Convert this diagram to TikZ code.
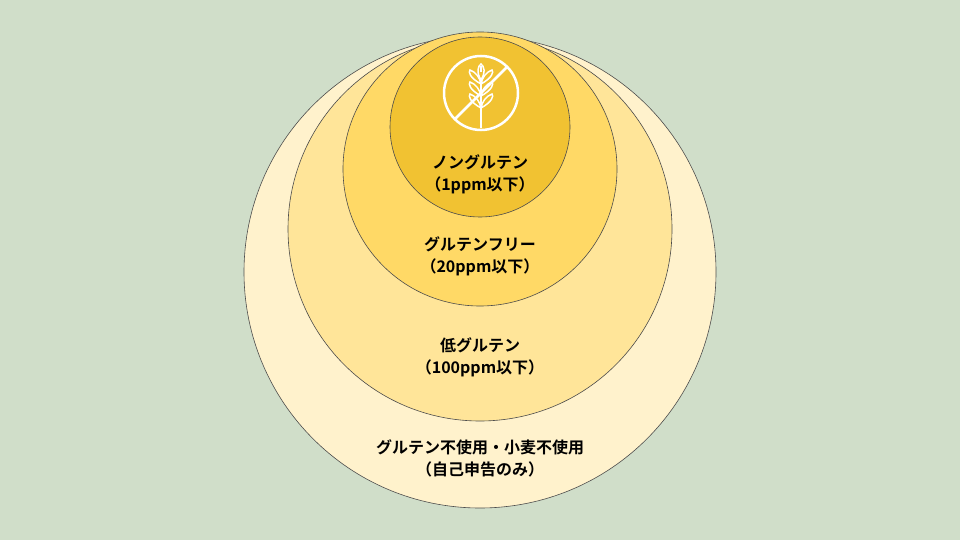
\documentclass[tikz,border=0pt]{standalone}
\usepackage{fontspec}
\setmainfont{Noto Sans CJK JP Bold}
\definecolor{sagebg}{RGB}{208,222,201}
\definecolor{levelA}{RGB}{255,242,204}
\definecolor{levelB}{RGB}{255,229,153}
\definecolor{levelC}{RGB}{255,217,102}
\definecolor{levelD}{RGB}{241,194,50}
\tikzset{ring/.style={draw=black!70, line width=0.6pt},
  lbl/.style={font=\fontsize{16}{22}\selectfont, align=center}}
\begin{document}
\begin{tikzpicture}[x=1pt,y=-1pt]
  % background
  \fill[sagebg] (0,0) rectangle (960,540);
  \useasboundingbox (0,0) rectangle (960,540);
  % nested circles
  \node[ring, circle, fill=levelA, minimum size=472pt] (outer) at (480,272) {};
  \node[ring, circle, fill=levelB, minimum size=384pt] (low) at (480,229) {};
  \node[ring, circle, fill=levelC, minimum size=274pt] (free) at (480,169) {};
  \node[ring, circle, fill=levelD, minimum size=180pt] (non) at (480,127) {};
  % icon
  \draw[white, line width=2.5pt] (481,93) circle (37);
  \draw[white, line width=2.5pt] (507,67) -- (455,119);
  \begin{scope}[white, line width=1.5pt]
    \draw (481,80) -- (481,128);
    \draw (481,72) -- (481,66);
    \foreach \yy in {84,96,108} {
      \draw (481,\yy) .. controls (470,\yy-6) and (468,\yy-12) .. (470,\yy-14) .. controls (476,\yy-12) and (480,\yy-6) .. (481,\yy);
      \draw (481,\yy) .. controls (492,\yy-6) and (494,\yy-12) .. (492,\yy-14) .. controls (486,\yy-12) and (482,\yy-6) .. (481,\yy);
    }
    \draw (481,80) .. controls (476,72) and (478,66) .. (481,64) .. controls (484,66) and (486,72) .. (481,80);
  \end{scope}
  % labels
  \node[lbl] (nonlbl) at (480,174) {ノングルテン\\（1ppm以下）};
  \node[lbl] (freelbl) at (480,256) {グルテンフリー\\（20ppm以下）};
  \node[lbl] (lowlbl) at (480,357) {低グルテン\\（100ppm以下）};
  \node[lbl] (outerlbl) at (480,458) {グルテン不使用・小麦不使用\\（自己申告のみ）};
\end{tikzpicture}
\end{document}
